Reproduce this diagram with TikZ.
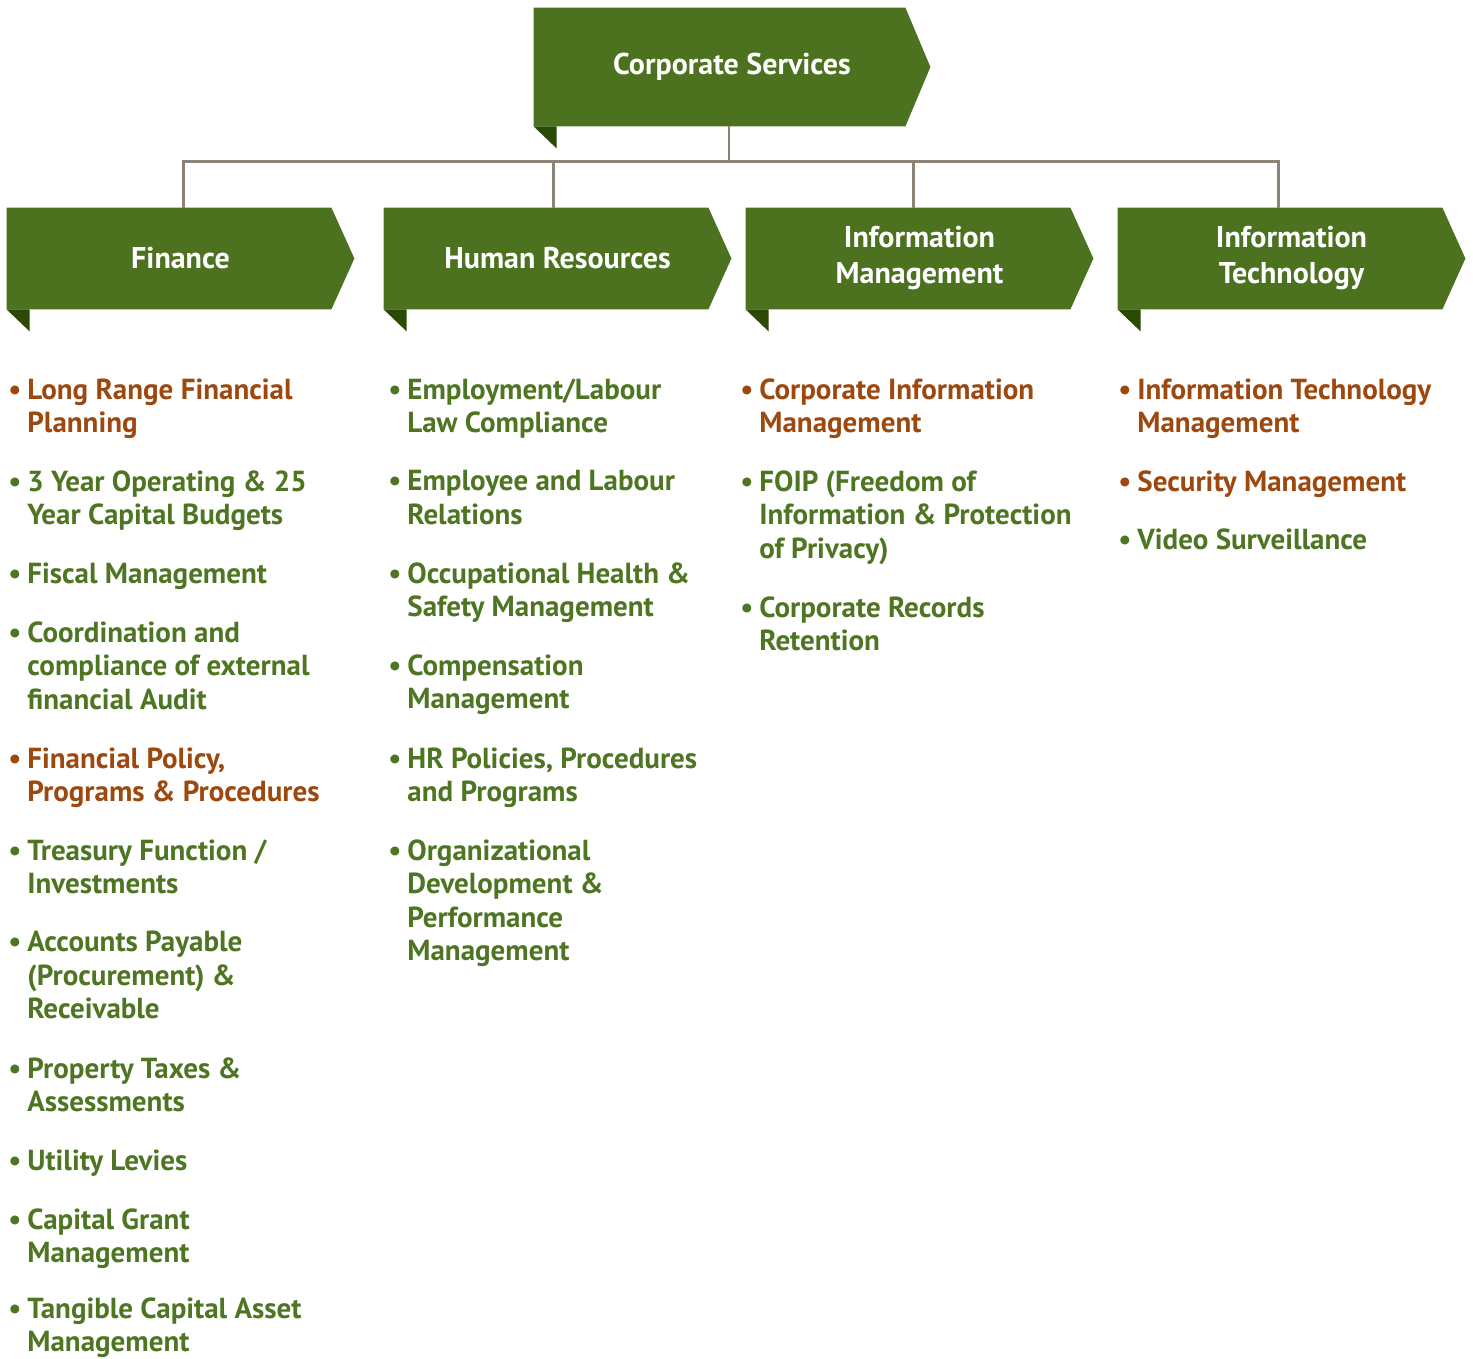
\documentclass[tikz,border=0pt]{standalone}
\usepackage{fontspec}
\setmainfont{PT Sans}
\usepackage{tikz}
\usetikzlibrary{calc, backgrounds, positioning}
\definecolor{bannergreen}{RGB}{76,114,32}
\definecolor{folddark}{RGB}{43,74,5}
\definecolor{itemgreen}{RGB}{78,117,34}
\definecolor{itemorange}{RGB}{156,72,14}
\definecolor{linkgray}{RGB}{140,131,118}
\tikzset{
  banner/.style={
    rectangle, minimum width=173.5pt, minimum height=50.5pt, inner sep=0pt,
    align=center, text=white, font=\fontsize{15}{18}\selectfont\bfseries
  },
  topbanner/.style={banner, minimum width=198pt, minimum height=59pt},
  item/.style={
    anchor=north west, inner sep=0pt, align=left,
    font=\fontsize{14.5}{16.75}\selectfont\bfseries, text=itemgreen
  },
  keyitem/.style={item, text=itemorange},
  link/.style={draw=linkgray, line width=1.4pt}
}
\newcommand{\itembullet}{\llap{\textbullet\hspace{3pt}}}

\begin{document}
\begin{tikzpicture}[x=0.5pt, y=-0.5pt]
  \useasboundingbox (0,0) rectangle (1473,1359);

  % Banners
  \node[topbanner] (cs)  at (732, 67)    {Corporate Services};
  \node[banner]    (fin) at (180.5, 258.5) {Finance};
  \node[banner]    (hr)  at (557.5, 258.5) {Human Resources};
  \node[banner]    (im)  at (919.5, 258.5) {Information\\Management};
  \node[banner]    (it)  at (1291.5, 258.5) {Information\\Technology};

  % Ribbon shapes behind the banner texts
  \begin{scope}[on background layer]
    \foreach \n/\t in {cs/25, fin/23, hr/23, im/23, it/23} {
      \fill[bannergreen] (\n.north west) -- ($(\n.north east)+(-\t,0)$)
        -- (\n.east) -- ($(\n.south east)+(-\t,0)$) -- (\n.south west) -- cycle;
      \fill[folddark] (\n.south west) -- ++(23,0) -- ++(0,22) -- cycle;
    }
  \end{scope}

  % Tree lines
  \draw[link] (cs.south) ++(-3,0) -- ++(0,35) coordinate (hub);
  \foreach \n/\dx in {fin/3, hr/-4, im/-6, it/-13}
    \draw[link] (hub) -| ($(\n.north)+(\dx,0)$);

  % Finance
  \node[keyitem] (fin1)  at (27, 378)  {\itembullet Long Range Financial\\Planning};
  \node[item]    (fin2)  at (27, 470)  {\itembullet 3 Year Operating \& 25\\Year Capital Budgets};
  \node[item]    (fin3)  at (27, 562)  {\itembullet Fiscal Management};
  \node[item]    (fin4)  at (27, 621)  {\itembullet Coordination and\\compliance of external\\financial Audit};
  \node[keyitem] (fin5)  at (27, 747)  {\itembullet Financial Policy,\\Programs \& Procedures};
  \node[item]    (fin6)  at (27, 839)  {\itembullet Treasury Function /\\Investments};
  \node[item]    (fin7)  at (27, 931)  {\itembullet Accounts Payable\\(Procurement) \&\\Receivable};
  \node[item]    (fin8)  at (27, 1057) {\itembullet Property Taxes \&\\Assessments};
  \node[item]    (fin9)  at (27, 1149) {\itembullet Utility Levies};
  \node[item]    (fin10) at (27, 1208) {\itembullet Capital Grant\\Management};
  \node[item]    (fin11) at (27, 1297) {\itembullet Tangible Capital Asset\\Management};

  % Human Resources
  \node[item] (hr1) at (407, 378) {\itembullet Employment/Labour\\Law Compliance};
  \node[item] (hr2) at (407, 470) {\itembullet Employee and Labour\\Relations};
  \node[item] (hr3) at (407, 562) {\itembullet Occupational Health \&\\Safety Management};
  \node[item] (hr4) at (407, 654) {\itembullet Compensation\\Management};
  \node[item] (hr5) at (407, 747) {\itembullet HR Policies, Procedures\\and Programs};
  \node[item] (hr6) at (407, 839) {\itembullet Organizational\\Development \&\\Performance\\Management};

  % Information Management
  \node[keyitem] (im1) at (759, 378) {\itembullet Corporate Information\\Management};
  \node[item]    (im2) at (759, 470) {\itembullet FOIP (Freedom of\\Information \& Protection\\of Privacy)};
  \node[item]    (im3) at (759, 596) {\itembullet Corporate Records\\Retention};

  % Information Technology
  \node[keyitem] (it1) at (1137, 378) {\itembullet Information Technology\\Management};
  \node[keyitem] (it2) at (1137, 470) {\itembullet Security Management};
  \node[item]    (it3) at (1137, 528) {\itembullet Video Surveillance};
\end{tikzpicture}
\end{document}
